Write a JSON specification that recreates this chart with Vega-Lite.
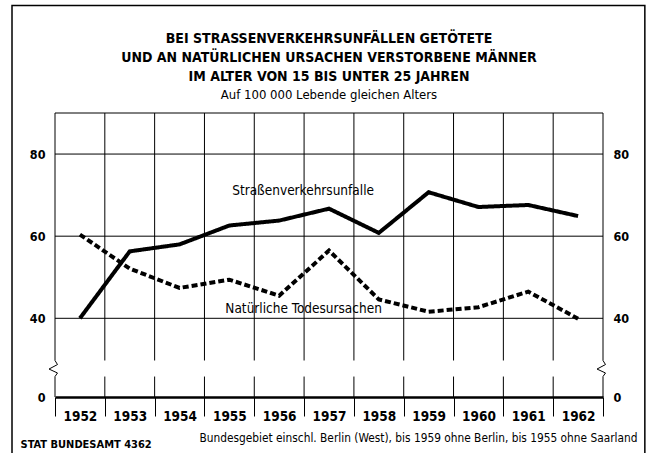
{
  "$schema": "https://vega.github.io/schema/vega-lite/v6.json",
  "width": 548,
  "height": 284,
  "autosize": {"type": "none"},
  "padding": {"left": 55, "top": 113, "right": 51, "bottom": 56},
  "background": "white",
  "config": {
    "font": "DejaVu Sans Condensed",
    "view": {"stroke": null},
    "axis": {"labelColor": "black", "titleColor": "black", "labelFont": "DejaVu Sans Condensed", "titleFont": "DejaVu Sans Condensed"}
  },
  "title": {
    "text": ["BEI STRASSENVERKEHRSUNFÄLLEN GETÖTETE", "UND AN NATÜRLICHEN URSACHEN VERSTORBENE MÄNNER", "IM ALTER VON 15 BIS UNTER 25 JAHREN"],
    "subtitle": "Auf 100 000 Lebende gleichen Alters",
    "anchor": "middle",
    "frame": "group",
    "offset": 0,
    "dy": 97,
    "font": "DejaVu Sans Condensed",
    "fontSize": 14,
    "fontWeight": "bold",
    "lineHeight": 19,
    "color": "black",
    "subtitleFont": "DejaVu Sans Condensed",
    "subtitleFontSize": 13,
    "subtitleColor": "black",
    "subtitlePadding": 5
  },
  "datasets": {
    "rates": [
      {"year": 1952, "value": 40.0, "series": "Straßenverkehrsunfälle"},
      {"year": 1953, "value": 56.3, "series": "Straßenverkehrsunfälle"},
      {"year": 1954, "value": 58.0, "series": "Straßenverkehrsunfälle"},
      {"year": 1955, "value": 62.6, "series": "Straßenverkehrsunfälle"},
      {"year": 1956, "value": 63.8, "series": "Straßenverkehrsunfälle"},
      {"year": 1957, "value": 66.7, "series": "Straßenverkehrsunfälle"},
      {"year": 1958, "value": 60.8, "series": "Straßenverkehrsunfälle"},
      {"year": 1959, "value": 70.7, "series": "Straßenverkehrsunfälle"},
      {"year": 1960, "value": 67.1, "series": "Straßenverkehrsunfälle"},
      {"year": 1961, "value": 67.6, "series": "Straßenverkehrsunfälle"},
      {"year": 1962, "value": 64.9, "series": "Straßenverkehrsunfälle"},
      {"year": 1952, "value": 60.4, "series": "Natürliche Todesursachen"},
      {"year": 1953, "value": 52.1, "series": "Natürliche Todesursachen"},
      {"year": 1954, "value": 47.4, "series": "Natürliche Todesursachen"},
      {"year": 1955, "value": 49.4, "series": "Natürliche Todesursachen"},
      {"year": 1956, "value": 45.5, "series": "Natürliche Todesursachen"},
      {"year": 1957, "value": 56.5, "series": "Natürliche Todesursachen"},
      {"year": 1958, "value": 44.6, "series": "Natürliche Todesursachen"},
      {"year": 1959, "value": 41.6, "series": "Natürliche Todesursachen"},
      {"year": 1960, "value": 42.7, "series": "Natürliche Todesursachen"},
      {"year": 1961, "value": 46.5, "series": "Natürliche Todesursachen"},
      {"year": 1962, "value": 39.8, "series": "Natürliche Todesursachen"}
    ],
    "grid": [
      {"x": 1951.5, "x2": 1951.5, "y": 0, "y2": 10.4}, {"x": 1951.5, "x2": 1951.5, "y": 18.55, "y2": 90},
      {"x": 1952.5, "x2": 1952.5, "y": 0, "y2": 10.4}, {"x": 1952.5, "x2": 1952.5, "y": 18.55, "y2": 90},
      {"x": 1953.5, "x2": 1953.5, "y": 0, "y2": 10.4}, {"x": 1953.5, "x2": 1953.5, "y": 18.55, "y2": 90},
      {"x": 1954.5, "x2": 1954.5, "y": 0, "y2": 10.4}, {"x": 1954.5, "x2": 1954.5, "y": 18.55, "y2": 90},
      {"x": 1955.5, "x2": 1955.5, "y": 0, "y2": 10.4}, {"x": 1955.5, "x2": 1955.5, "y": 18.55, "y2": 90},
      {"x": 1956.5, "x2": 1956.5, "y": 0, "y2": 10.4}, {"x": 1956.5, "x2": 1956.5, "y": 18.55, "y2": 90},
      {"x": 1957.5, "x2": 1957.5, "y": 0, "y2": 10.4}, {"x": 1957.5, "x2": 1957.5, "y": 18.55, "y2": 90},
      {"x": 1958.5, "x2": 1958.5, "y": 0, "y2": 10.4}, {"x": 1958.5, "x2": 1958.5, "y": 18.55, "y2": 90},
      {"x": 1959.5, "x2": 1959.5, "y": 0, "y2": 10.4}, {"x": 1959.5, "x2": 1959.5, "y": 18.55, "y2": 90},
      {"x": 1960.5, "x2": 1960.5, "y": 0, "y2": 10.4}, {"x": 1960.5, "x2": 1960.5, "y": 18.55, "y2": 90},
      {"x": 1961.5, "x2": 1961.5, "y": 0, "y2": 10.4}, {"x": 1961.5, "x2": 1961.5, "y": 18.55, "y2": 90},
      {"x": 1962.5, "x2": 1962.5, "y": 0, "y2": 10.4}, {"x": 1962.5, "x2": 1962.5, "y": 18.55, "y2": 90},
      {"x": 1951.5, "x2": 1962.5, "y": 40, "y2": 40},
      {"x": 1951.5, "x2": 1962.5, "y": 60, "y2": 60},
      {"x": 1951.5, "x2": 1962.5, "y": 80, "y2": 80},
      {"x": 1951.5, "x2": 1962.5, "y": 90, "y2": 90}
    ],
    "breaks": [
      {"side": "left", "i": 0, "x": 1951.5, "y": 18.55},
      {"side": "left", "i": 1, "x": 1951.55, "y": 16.5},
      {"side": "left", "i": 2, "x": 1951.38, "y": 14.2},
      {"side": "left", "i": 3, "x": 1951.55, "y": 12.2},
      {"side": "left", "i": 4, "x": 1951.5, "y": 10.4},
      {"side": "right", "i": 0, "x": 1962.5, "y": 18.55},
      {"side": "right", "i": 1, "x": 1962.55, "y": 16.5},
      {"side": "right", "i": 2, "x": 1962.38, "y": 14.2},
      {"side": "right", "i": 3, "x": 1962.55, "y": 12.2},
      {"side": "right", "i": 4, "x": 1962.5, "y": 10.4}
    ],
    "labels": [
      {"text": "Straßenverkehrsunfalle", "x": 1956.48, "y": 70.9},
      {"text": "Natürliche Todesursachen", "x": 1956.49, "y": 42.2}
    ]
  },
  "resolve": {
    "scale": {"x": "shared", "y": "shared"},
    "axis": {"x": "independent", "y": "independent"}
  },
  "layer": [
    {
      "data": {"values": [{}]},
      "mark": {"type": "rect", "filled": false, "stroke": "black", "strokeWidth": 1.5, "clip": false},
      "encoding": {
        "x": {"datum": 1950.637, "type": "quantitative", "scale": {"domain": [1951.5, 1962.5], "nice": false, "zero": false}, "axis": null},
        "x2": {"datum": 1963.34},
        "y": {"datum": 116.2, "type": "quantitative", "scale": {"domain": [0, 40, 90], "range": [284, 205.3, 0], "nice": false, "zero": false}, "axis": null},
        "y2": {"datum": -40}
      }
    },
    {
      "data": {"name": "grid"},
      "mark": {"type": "rule", "color": "black", "strokeWidth": 1},
      "encoding": {
        "x": {"field": "x", "type": "quantitative", "scale": {"domain": [1951.5, 1962.5], "nice": false, "zero": false}, "axis": null},
        "x2": {"field": "x2"},
        "y": {"field": "y", "type": "quantitative", "scale": {"domain": [0, 40, 90], "range": [284, 205.3, 0], "nice": false, "zero": false},
          "axis": {"orient": "right", "values": [0, 40, 60, 80], "ticks": false, "domain": false, "grid": false, "labelPadding": 10, "labelFontSize": 12.5, "labelFontWeight": "bold", "title": null}},
        "y2": {"field": "y2"}
      }
    },
    {
      "data": {"name": "breaks"},
      "mark": {"type": "line", "color": "black", "strokeWidth": 1},
      "encoding": {
        "x": {"field": "x", "type": "quantitative", "scale": {"domain": [1951.5, 1962.5], "nice": false, "zero": false}, "axis": null},
        "y": {"field": "y", "type": "quantitative", "scale": {"domain": [0, 40, 90], "range": [284, 205.3, 0], "nice": false, "zero": false}, "axis": null},
        "detail": {"field": "side"},
        "order": {"field": "i"}
      }
    },
    {
      "data": {"name": "rates"},
      "mark": {"type": "line", "color": "black", "strokeWidth": 4, "strokeCap": "butt"},
      "encoding": {
        "x": {"field": "year", "type": "quantitative", "scale": {"domain": [1951.5, 1962.5], "nice": false, "zero": false},
          "axis": {"values": [1951.5, 1952.5, 1953.5, 1954.5, 1955.5, 1956.5, 1957.5, 1958.5, 1959.5, 1960.5, 1961.5, 1962.5],
            "labelExpr": "datum.value < 1962 ? format(datum.value + 0.5, 'd') : ''",
            "labelOffset": 24.9, "labelAlign": "center", "labelBaseline": "top", "labelPadding": -7, "labelFlush": false, "labelOverlap": false, "labelBound": false,
            "labelFontSize": 13.5, "labelFontWeight": "bold",
            "ticks": true, "tickSize": 19, "tickWidth": 1, "tickColor": "black",
            "domainWidth": 2.5, "domainColor": "black", "grid": false,
            "title": "Bundesgebiet einschl. Berlin (West), bis 1959 ohne Berlin, bis 1955 ohne Saarland",
            "titleX": 582, "titleY": 44, "titleAlign": "right", "titleBaseline": "alphabetic", "titleFontSize": 11.8, "titleFontWeight": "normal"}},
        "y": {"field": "value", "type": "quantitative", "scale": {"domain": [0, 40, 90], "range": [284, 205.3, 0], "nice": false, "zero": false},
          "axis": {"orient": "left", "values": [0, 40, 60, 80], "ticks": false, "domain": false, "grid": false, "labelPadding": 10, "labelFontSize": 12.5, "labelFontWeight": "bold",
            "title": "STAT  BUNDESAMT 4362", "titleAngle": 0, "titleX": -35, "titleY": 334, "titleAlign": "left", "titleBaseline": "alphabetic", "titleFontSize": 11, "titleFontWeight": "bold"}},
        "strokeDash": {"field": "series", "type": "nominal", "scale": {"domain": ["Straßenverkehrsunfälle", "Natürliche Todesursachen"], "range": [[1, 0], [6, 3]]}, "legend": null}
      }
    },
    {
      "data": {"name": "labels"},
      "mark": {"type": "text", "color": "black", "fontSize": 13.5, "align": "center", "baseline": "middle"},
      "encoding": {
        "x": {"field": "x", "type": "quantitative", "scale": {"domain": [1951.5, 1962.5], "nice": false, "zero": false}, "axis": null},
        "y": {"field": "y", "type": "quantitative", "scale": {"domain": [0, 40, 90], "range": [284, 205.3, 0], "nice": false, "zero": false}, "axis": null},
        "text": {"field": "text"}
      }
    }
  ]
}
